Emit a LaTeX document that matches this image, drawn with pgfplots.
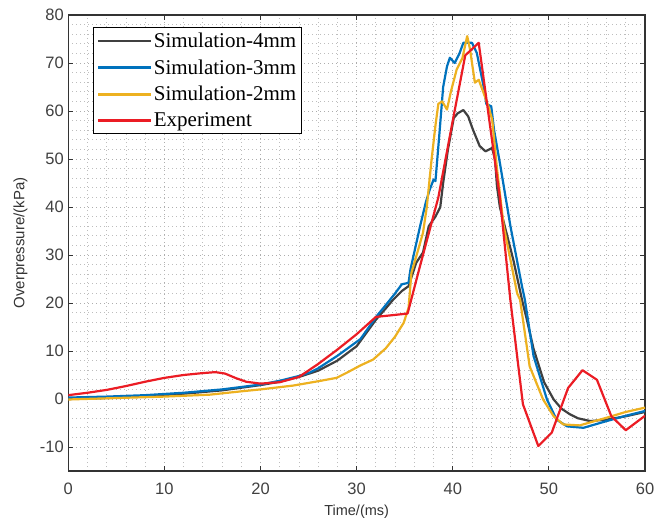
\documentclass[border=0pt]{standalone}
\usepackage{fontspec}
\setmainfont{Liberation Serif}
\setsansfont{Liberation Sans}
\usepackage{pgfplots}
\pgfplotsset{compat=1.18}

\definecolor{cfour}{RGB}{64,64,64}
\definecolor{cthree}{RGB}{0,114,189}
\definecolor{ctwo}{RGB}{237,177,32}
\definecolor{cexp}{RGB}{235,28,36}

\begin{document}
\begin{tikzpicture}
\path[use as bounding box] (-68.3bp,-53bp) rectangle (587.7bp,471bp);
\begin{axis}[
  at={(0,0)}, anchor=south west,
  scale only axis, width=576.7bp, height=456bp,
  xmin=0, xmax=60, ymin=-15, ymax=80,
  xtick={0,10,...,60}, ytick={-10,0,...,80},
  minor x tick num=4, minor y tick num=4,
  grid=both,
  major grid style={line width=0.8bp, black!32, dash pattern=on 0.8bp off 3.2bp},
  minor grid style={line width=0.8bp, black!26, dash pattern=on 0.8bp off 3.2bp},
  tick align=inside, xtick pos=both, ytick pos=both,
  xticklabel pos=lower, yticklabel pos=left,
  major tick length=5bp, minor tick length=0bp,
  axis line style={line width=1.1bp, black!80},
  every tick/.style={line width=0.9bp, black!80},
  /pgf/number format/assume math mode=true,
  tick label style={font=\fontsize{16.5bp}{18bp}\sffamily, text=black!75},
  xticklabel style={yshift=-8bp},
  yticklabel style={xshift=-1bp},
  xlabel={Time/(ms)},
  ylabel={Overpressure/(kPa)},
  xlabel style={font=\fontsize{14.5bp}{16bp}\sffamily, text=black!80, at={(axis description cs:0.5,-0.09)}, anchor=center},
  ylabel style={font=\fontsize{15bp}{16bp}\sffamily, text=black!80, at={(axis description cs:-0.083,0.5)}, anchor=center},
  legend style={at={(0.0428,0.9726)}, anchor=north west, draw=black, line width=1bp, fill=white,
    font=\fontsize{21bp}{23bp}\selectfont, inner sep=3.5bp, row sep=7.6bp,
    nodes={inner sep=1.5bp}},
  legend cell align=left,
  legend image code/.code={\draw[#1, line width=2.4bp] (0bp,0bp) -- (53bp,0bp);},
  every axis plot/.append style={line width=2.2bp, line join=round},
]
\addplot[color=cfour, mark=none] coordinates {
(0,0) (4,0.2) (8,0.6) (12,1.1) (16,1.8) (20,2.9) (22,3.6) (24,4.6) (26,5.9) (28,8.0)
(30,11.0) (32,16.5) (33,18.8) (33.8,20.7) (34.7,22.5) (35.4,23.5) (36.2,28.4) (36.9,30.5)
(37.5,36) (38.2,38) (38.7,40) (39.0,45) (39.5,52) (40.1,58.5) (40.5,59.5) (41.1,60.2)
(41.6,58.9) (42.1,56.1) (42.8,52.7) (43.4,51.6) (44.1,52.3) (44.4,49.9) (44.6,44.3)
(44.9,40) (46.3,29) (47.2,20.7) (47.7,16.6) (48.4,10.5) (49.5,3.5) (50.5,-0.1)
(51.3,-2) (52.2,-3.2) (53,-4) (54.3,-4.6) (56,-4.3) (58,-3.6) (60,-2.7)
};
\addlegendentry{Simulation-4mm}
\addplot[color=cthree, mark=none] coordinates {
(0,0.3) (4,0.5) (8,0.8) (12,1.3) (16,2.0) (20,3.0) (22,3.8) (24,4.8) (25.1,5.5) (26,6.4)
(28,9.0) (30.4,12.5) (32.1,17.3) (33,19.5) (34,22) (34.7,23.9) (35.4,24.2) (35.6,27)
(36.6,36) (37.2,41) (37.6,43.6) (38.0,45.7) (38.2,45.4) (38.6,55) (39.0,65) (39.4,69.3)
(39.7,71.1) (40.2,70) (40.7,72) (41.1,74.2) (42,74.2) (42.5,72.1) (43.2,65.2) (43.5,61.4)
(44,61) (44.3,56) (44.9,49.2) (46,36) (47.2,23.5) (47.5,20.7) (48.4,9) (49.8,-0.1)
(50.8,-4.3) (51.9,-5.7) (53.6,-6.0) (56,-4.6) (58,-3.5) (60,-2.5)
};
\addlegendentry{Simulation-3mm}
\addplot[color=ctwo, mark=none] coordinates {
(0,-0.1) (5,0.2) (10,0.5) (14.7,0.9) (18,1.6) (20,2.0) (23.4,2.8) (26,3.7) (27.9,4.4)
(29,5.5) (30.4,7) (31.7,8.2) (33,10.5) (34,13) (34.9,15.9) (35.4,19) (35.7,26.3)
(36.1,29) (36.9,34.6) (37.3,40) (37.8,50) (38.2,57) (38.5,61.5) (38.9,62) (39.4,60.3)
(39.8,64) (40.4,68.6) (41.0,71) (41.5,75.6) (41.8,72.8) (42.3,65.9) (42.7,66.5)
(43.2,63.8) (43.7,61) (44.1,58.2) (44.6,48) (45.3,36) (46.7,22) (47,20.7) (48,6.8)
(49.4,-0.1) (50.5,-3.6) (51.5,-5.3) (53.2,-5.5) (56,-3.9) (58,-2.7) (60,-1.8)
};
\addlegendentry{Simulation-2mm}
\addplot[color=cexp, mark=none] coordinates {
(0,0.8) (2,1.3) (4,1.9) (6,2.7) (8,3.6) (10,4.4) (12,5.0) (14,5.4) (15.3,5.6) (16.3,5.3)
(17.5,4.3) (18.5,3.6) (20,3.2) (22,3.5) (24,4.6) (26,7.3) (28,10.3) (30,13.5) (32,17.1)
(35.3,17.8) (36.5,27) (38.5,42) (40,58) (41.3,71.6) (42.7,74.2) (44.9,42) (46,20.5)
(47.3,-1.1) (48.9,-9.8) (50.3,-7) (52,2.3) (53.5,6) (55,4) (56.5,-3.6) (58,-6.5) (60,-3.5)
};
\addlegendentry{Experiment}
\end{axis}
\end{tikzpicture}
\end{document}
